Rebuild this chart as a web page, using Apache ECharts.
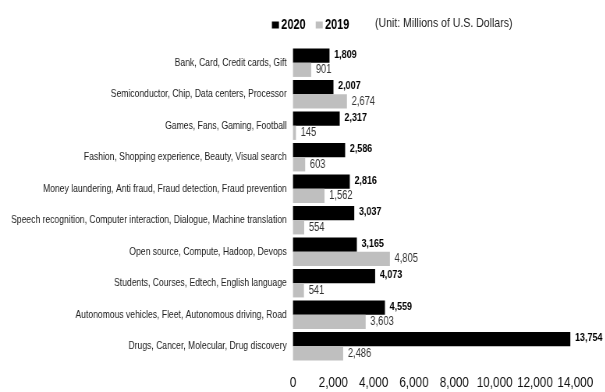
<!DOCTYPE html>
<html>
<head>
<meta charset="utf-8">
<script src="https://cdn.jsdelivr.net/npm/echarts@6/dist/echarts.min.js"></script>
<style>
html,body{margin:0;padding:0;background:#fff;overflow:hidden;}
#wrap{width:605px;height:392px;overflow:hidden;position:relative;}
#chart{width:776px;height:392px;transform:scaleX(0.78);transform-origin:0 0;}
</style>
</head>
<body>
<div id="wrap"><div id="chart"></div></div>
<script>
const categories = [
  "Bank, Card, Credit cards, Gift",
  "Semiconductor, Chip, Data centers, Processor",
  "Games, Fans, Gaming, Football",
  "Fashion, Shopping experience, Beauty, Visual search",
  "Money laundering, Anti fraud, Fraud detection, Fraud prevention",
  "Speech recognition, Computer interaction, Dialogue, Machine translation",
  "Open source, Compute, Hadoop, Devops",
  "Students, Courses, Edtech, English language",
  "Autonomous vehicles, Fleet, Autonomous driving, Road",
  "Drugs, Cancer, Molecular, Drug discovery"
];
const values2020 = [1809, 2007, 2317, 2586, 2816, 3037, 3165, 4073, 4559, 13754];
const values2019 = [901, 2674, 145, 603, 1562, 554, 4805, 541, 3603, 2486];
const xTicks = [0, 2000, 4000, 6000, 8000, 10000, 12000, 14000];
const unitText = "(Unit: Millions of U.S. Dollars)";

// Text is drawn in Liberation Sans and the whole canvas is condensed horizontally
// (scaleX 0.78) to imitate the narrow typeface of the reference.
const S = 0.78;
const FONT = "'Liberation Sans', Arial, sans-serif";
const fmt = v => v.toLocaleString('en-US');

const chart = echarts.init(document.getElementById('chart'), null, {renderer: 'canvas', width: 776, height: 392});
chart.setOption({
  animation: false,
  backgroundColor: '#fff',
  textStyle: {fontFamily: FONT},
  legend: {
    left: 268 / S, top: 13,
    itemWidth: 9, itemHeight: 7, itemGap: 13,
    icon: 'rect',
    textStyle: {fontFamily: FONT, fontSize: 14, fontWeight: 'bold', color: '#000', padding: [0,0,0,-2]},
    data: ['2020', '2019']
  },
  graphic: [{
    type: 'text', left: 375 / S, top: 16,
    style: {text: unitText, font: "13.5px " + FONT, fill: '#222'}
  }],
  grid: {left: 293 / S, right: 30 / S, top: 47, bottom: 30, containLabel: false, outerBoundsMode: 'none'},
  xAxis: {
    type: 'value', min: xTicks[0], max: xTicks[xTicks.length - 1], interval: 2000,
    axisLine: {show: false}, axisTick: {show: false}, splitLine: {show: false},
    axisLabel: {fontFamily: FONT, fontSize: 15, color: '#111', margin: 13, formatter: v => fmt(v), hideOverlap: false}
  },
  yAxis: {
    type: 'category', data: categories, inverse: true,
    axisLine: {show: false}, axisTick: {show: false},
    axisLabel: {fontFamily: FONT, fontSize: 11, color: '#222', margin: 8}
  },
  series: [
    {
      name: '2020', type: 'bar', data: values2020,
      barGap: '0%', barCategoryGap: '10%',
      itemStyle: {color: '#000'},
      label: {show: true, position: 'right', distance: 6, formatter: p => fmt(p.value),
        fontFamily: FONT, fontSize: 11.5, fontWeight: 'bold', color: '#000', offset: [0, -1]}
    },
    {
      name: '2019', type: 'bar', data: values2019,
      itemStyle: {color: '#bfbfbf'},
      label: {show: true, position: 'right', distance: 6, formatter: p => fmt(p.value),
        fontFamily: FONT, fontSize: 12, color: '#333'}
    }
  ]
});
</script>
</body>
</html>
